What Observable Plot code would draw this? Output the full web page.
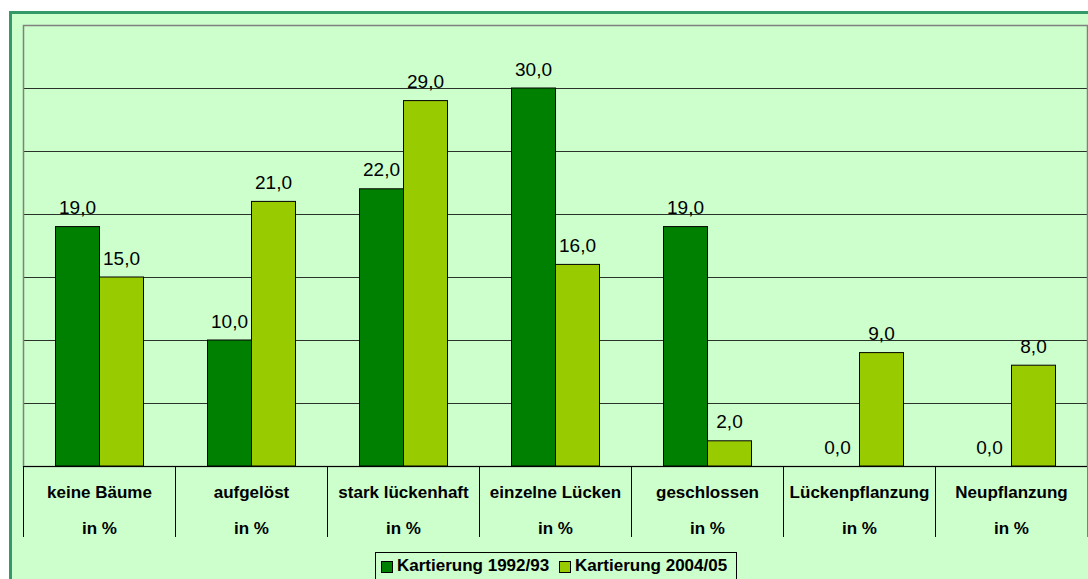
<!DOCTYPE html>
<html><head><meta charset="utf-8">
<script src="https://cdn.jsdelivr.net/npm/d3@7"></script>
<script src="https://cdn.jsdelivr.net/npm/@observablehq/plot@0.6"></script>
<style>
html,body{margin:0;padding:0;background:#fff;overflow:hidden;width:1088px;height:579px;}
#bg{position:absolute;left:9px;top:11px;width:1200px;height:700px;background:#ccffcc;border-left:3px solid #339966;border-top:3px solid #339966;}
#chart{position:absolute;left:0;top:0;}
#legend{position:absolute;left:375px;top:552px;width:360px;height:26px;border:1px solid #000;font:bold 17px "Liberation Sans",Arial,sans-serif;color:#000;}
#legend .sw{position:absolute;top:8px;width:10px;height:10px;border:1px solid #000;}
#legend .lb{position:absolute;top:3px;white-space:nowrap;}
</style></head>
<body>
<div id="bg"></div>
<div id="chart"></div>
<div id="legend"></div>
<script>
const categories = ["keine Bäume","aufgelöst","stark lückenhaft","einzelne Lücken","geschlossen","Lückenpflanzung","Neupflanzung"];
const seriesNames = ["Kartierung 1992/93","Kartierung 2004/05"];
const values1992 = [19,10,22,30,19,0,0];
const values2004 = [15,21,29,16,2,9,8];
const unitLabel = "in %";
const yTicks = [5,10,15,20,25,30];
const colors = ["#008000","#99cc00"];

const data1 = categories.map((c,i)=>({category:c, value:values1992[i]}));
const data2 = categories.map((c,i)=>({category:c, value:values2004[i]}));
const fmt = v => v.toFixed(1).replace(".", ",");

const chart = Plot.plot({
  width:1088, height:548,
  marginLeft:23, marginRight:1, marginTop:25, marginBottom:82,
  style:{background:"transparent", fontFamily:"'Liberation Sans', Arial, sans-serif", color:"#000", overflow:"visible"},
  x:{domain:categories, padding:0, axis:null, label:null},
  y:{domain:[0,35], axis:null, label:null},
  marks:[
    Plot.gridY(yTicks,{stroke:"#000", strokeOpacity:0.8}),
    Plot.frame({stroke:"#808080", strokeWidth:1.5}),
    Plot.barY(data1,{x:"category", y:"value", fill:colors[0], stroke:"#000", strokeWidth:1, insetLeft:32.5, insetRight:75.5}),
    Plot.barY(data2,{x:"category", y:"value", fill:colors[1], stroke:"#000", strokeWidth:1, insetLeft:76.5, insetRight:31.5}),
    Plot.ruleY([0],{stroke:"#000", strokeWidth:1.2}),
    Plot.text(data1,{x:"category", y:"value", text:d=>fmt(d.value), dx:-22, dy:-13, lineAnchor:"bottom", fontSize:19, fill:"#000"}),
    Plot.text(data2,{x:"category", y:"value", text:d=>fmt(d.value), dx:22, dy:-13, lineAnchor:"bottom", fontSize:19, fill:"#000"}),
    Plot.axisX({tickSize:0, tickPadding:19, fontSize:17, fontWeight:"bold", label:null}),
    Plot.axisX({tickSize:0, tickPadding:55, tickFormat:()=>unitLabel, fontSize:17, fontWeight:"bold", label:null}),
    Plot.axisX({tickSize:71, tickFormat:()=>"", dx:-76, stroke:"#000", label:null}),
    Plot.axisX([categories[categories.length-1]],{tickSize:71, tickFormat:()=>"", dx:76, stroke:"#808080", label:null})
  ]
});
document.getElementById("chart").appendChild(chart);

const legend = document.getElementById("legend");
const legendPos = [[5,21],[183,199]];
seriesNames.forEach((name,i)=>{
  const sw = document.createElement("div");
  sw.className="sw"; sw.style.left=legendPos[i][0]+"px"; sw.style.background=colors[i];
  const lb = document.createElement("div");
  lb.className="lb"; lb.style.left=legendPos[i][1]+"px"; lb.textContent=name;
  legend.appendChild(sw); legend.appendChild(lb);
});
</script>
</body></html>
